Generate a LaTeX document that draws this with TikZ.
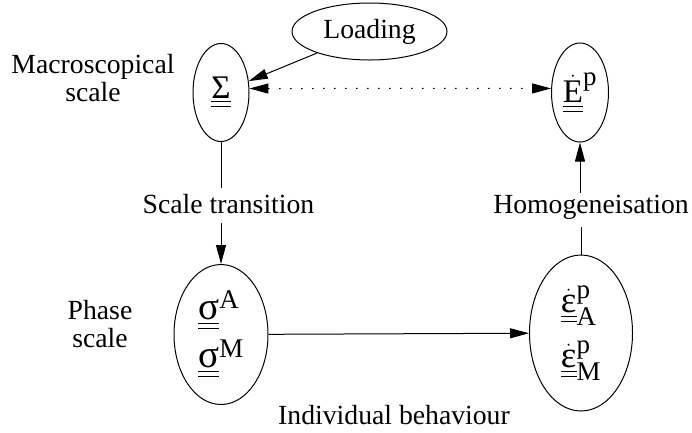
\documentclass[tikz,border=0pt]{standalone}
\usepackage{amsmath}
\usepackage{fontspec}
\setmainfont{Liberation Serif}
\DeclareMathSizes{33}{33}{27}{21}
\usetikzlibrary{shapes.geometric,arrows.meta}
\newcommand{\dul}[1]{\underline{\underline{#1}}}
\newcommand{\bgsig}{\text{\fontsize{39}{39}\selectfont σ}}
\newcommand{\bgeps}{\text{\fontsize{37}{37}\selectfont ε}}
\begin{document}
\begin{tikzpicture}[x=1pt,y=-1pt,
  font=\fontsize{27.7}{28}\selectfont, line width=1pt,
  ell/.style={draw, ellipse, inner sep=0pt},
  mth/.style={font=\fontsize{33}{36}\selectfont},
  lbl/.style={inner sep=0pt, align=center},
  arr/.style={-{Triangle[length=19pt,width=10pt]}},
  darr/.style={{Triangle[length=19pt,width=10pt]}-{Triangle[length=19pt,width=10pt]}, dash pattern=on 1.5pt off 9.5pt}]
\useasboundingbox (0,0) rectangle (692,432);
% ellipses
\node[ell, minimum width=155pt, minimum height=57pt] (load) at (369.5,31.5) {Loading};
\node[ell, mth, minimum width=56pt, minimum height=98pt] (Sig) at (221,92.5) {$\dul{\text{Σ}}$};
\node[ell, mth, minimum width=57pt, minimum height=99pt] (Ep) at (580,92.5) {$\dul{\dot{\text{E}}}^{\text{p}}$};
\node[ell, mth, minimum width=94pt, minimum height=140pt, align=left] (ph) at (221,334.5)
  {$\dul{\bgsig}^{\text{A}}$\\[9pt]$\dul{\bgsig}^{\text{M}}$};
\node[ell, mth, minimum width=103pt, minimum height=156pt, align=left] (eps) at (581,333)
  {$\dul{\dot{\bgeps}}^{\text{p}}_{\text{A}}$\\[14pt]$\dul{\dot{\bgeps}}^{\text{p}}_{\text{M}}$};
% labels
\node[lbl] (macro) at (93,78) {Macroscopical\\scale};
\node[lbl] (phase) at (100,324.5) {Phase\\scale};
\node[anchor=base, inner xsep=0pt, text height=20pt, text depth=4pt, inner ysep=5pt] (st) at (228.5,213) {Scale transition};
\node[anchor=base, inner xsep=0pt, text height=15pt, text depth=8pt, inner ysep=5pt] (hom) at (591,213) {Homogeneisation};
\node[anchor=base, inner sep=0pt] (ind) at (394,424) {Individual behaviour};
% connectors
\draw[arr] (load) -- (Sig);
\draw[darr] (Sig.8) -- (Ep.172);
\draw (Sig.south) -- (Sig.south |- st.north);
\draw[arr] (st.south -| ph.north) -- (ph.north);
\draw[arr] (ph) -- (eps);
\draw (eps.north) -- (eps.north |- hom.south);
\draw[arr] (hom.north -| Ep.south) -- (Ep.south);
\end{tikzpicture}
\end{document}
